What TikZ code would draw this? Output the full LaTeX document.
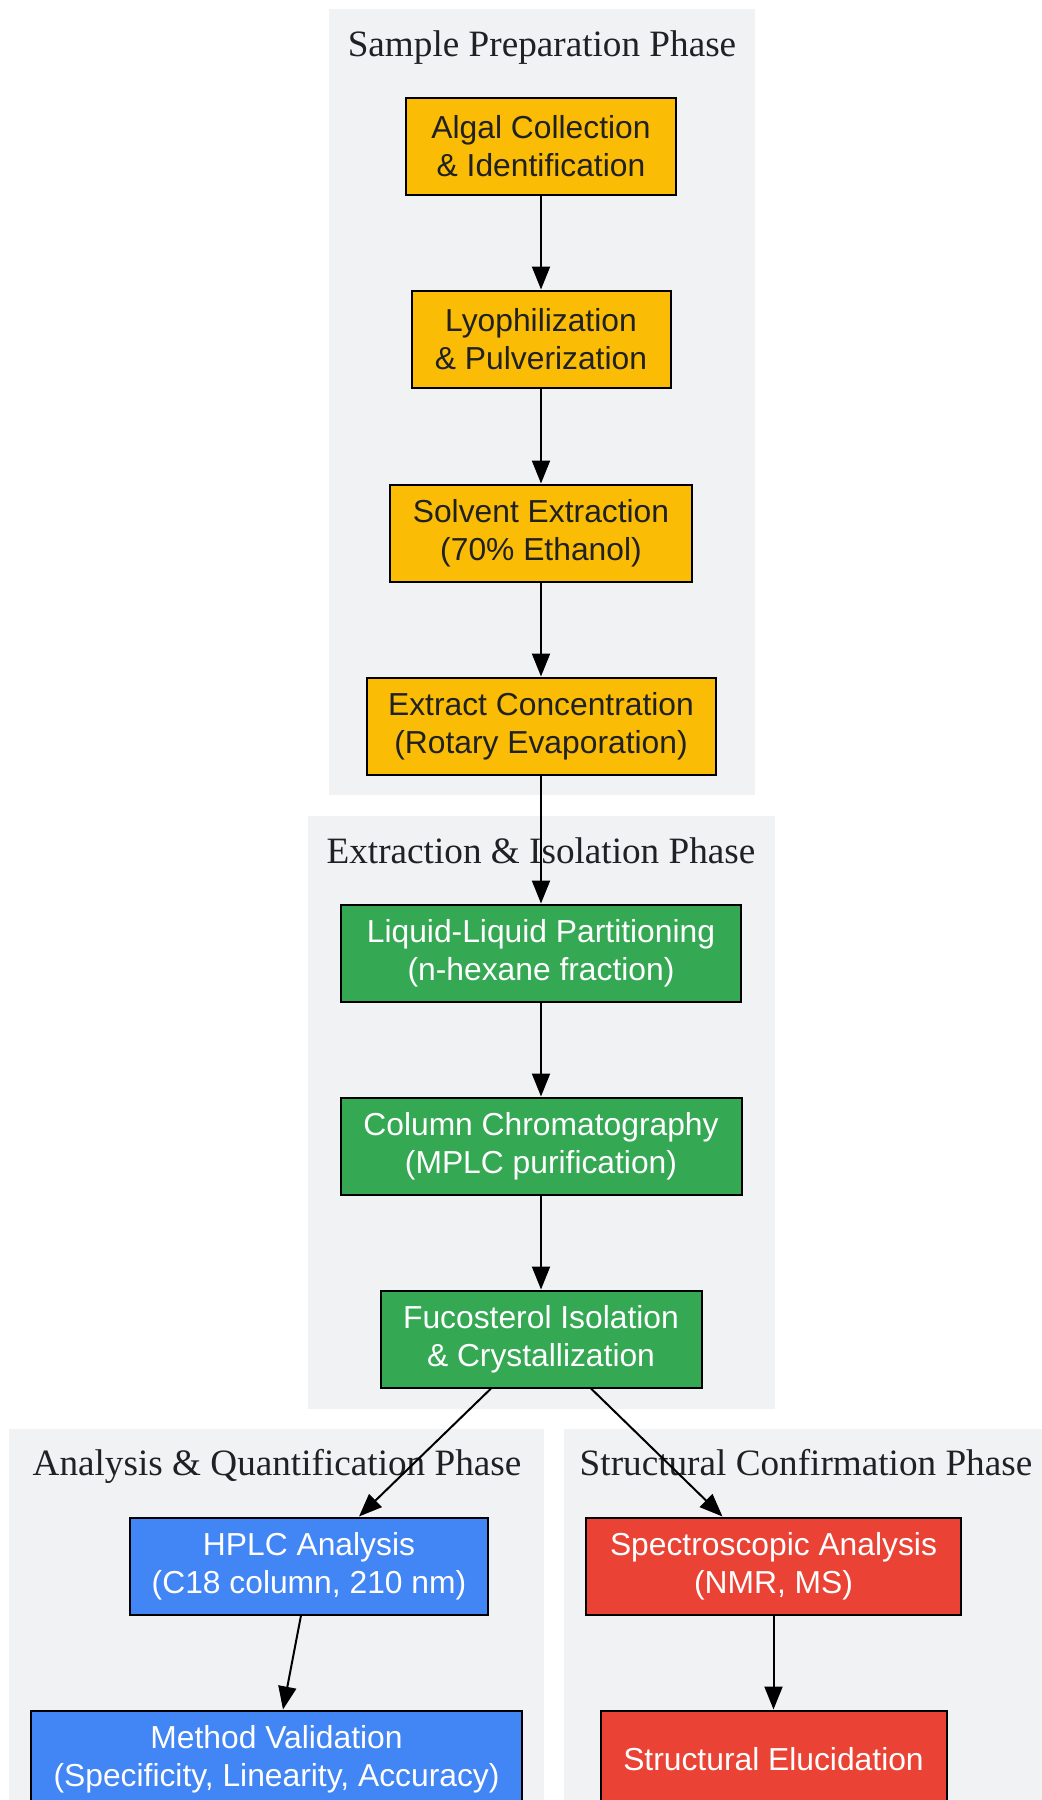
\documentclass[tikz,border=0pt]{standalone}
\usepackage{fontspec}
\setmainfont{Liberation Serif}
\setsansfont{Liberation Sans}
\usetikzlibrary{arrows.meta}
\definecolor{amarillo}{HTML}{FBBC05}
\definecolor{verde}{HTML}{34A853}
\definecolor{azul}{HTML}{4285F4}
\definecolor{rojo}{HTML}{EA4335}
\definecolor{fondo}{HTML}{F1F2F4}
\definecolor{texto}{HTML}{202124}
\begin{document}
\begin{tikzpicture}[x=0.5pt,y=-0.5pt,
    caja/.style={draw=black, line width=1pt, minimum height=48.5pt, inner sep=0pt,
        align=center, font=\sffamily\fontsize{15.9}{19}\selectfont},
    prep/.style={caja, fill=amarillo, text=texto},
    extr/.style={caja, fill=verde, text=white},
    anal/.style={caja, fill=azul, text=white},
    estr/.style={caja, fill=rojo, text=white},
    fase/.style={anchor=base, text=texto, font=\fontsize{18.6}{22}\selectfont},
    flecha/.style={line width=1pt, -{Triangle[length=11.5pt,width=9pt]}}]
                \useasboundingbox (0,0) rectangle (1041,1800);
                \fill[fondo] (329,9) rectangle (755,795); % fase 1
                \fill[fondo] (308,816) rectangle (775,1409); % fase 2
                \fill[fondo] (9,1429) rectangle (544,1820); % fase 3
                \fill[fondo] (564,1429) rectangle (1050,1820); % fase 4
                \node[fase] (fase1) at (542,56) {Sample Preparation Phase};
                \node[fase] (fase2) at (541,863) {Extraction \& Isolation Phase};
                \node[fase] (fase3) at (277,1475) {Analysis \& Quantification Phase};
                \node[fase] (fase4) at (806,1475) {Structural Confirmation Phase};
                \node[prep, minimum width=135pt] (algal) at (541,146) {Algal Collection\\\& Identification};
                \node[prep, minimum width=129.5pt] (liof) at (541,339) {Lyophilization\\\& Pulverization};
                \node[prep, minimum width=151pt] (solv) at (541,533) {Solvent Extraction\\(70\% Ethanol)};
                \node[prep, minimum width=174.5pt] (conc) at (541,726) {Extract Concentration\\(Rotary Evaporation)};
                \node[extr, minimum width=200pt] (part) at (541,953) {Liquid-Liquid Partitioning\\(n-hexane fraction)};
                \node[extr, minimum width=200.5pt] (col) at (541,1146) {Column Chromatography\\(MPLC purification)};
                \node[extr, minimum width=160.5pt] (fuco) at (541,1339) {Fucosterol Isolation\\\& Crystallization};
                \node[anal, minimum width=179pt] (hplc) at (309,1566) {HPLC Analysis\\(C18 column, 210 nm)};
                \node[anal, minimum width=245.5pt] (valid) at (276.5,1759) {Method Validation\\(Specificity, Linearity, Accuracy)};
                \node[estr, minimum width=187.5pt] (espec) at (773.5,1566) {Spectroscopic Analysis\\(NMR, MS)};
                \node[estr, minimum width=173pt] (eluc) at (773.5,1759) {Structural Elucidation};
                \draw[flecha] (algal) -- (liof);
                \draw[flecha] (liof) -- (solv);
                \draw[flecha] (solv) -- (conc);
                \draw[flecha] (conc) -- (part);
                \draw[flecha] (part) -- (col);
                \draw[flecha] (col) -- (fuco);
                \draw[flecha] ([xshift=-25pt]fuco.south) -- ([xshift=25pt]hplc.north);
                \draw[flecha] ([xshift=25pt]fuco.south) -- ([xshift=-25.5pt]espec.north);
                \draw[flecha] ([xshift=-4pt]hplc.south) -- ([xshift=3.25pt]valid.north);
                \draw[flecha] (espec) -- (eluc);
\end{tikzpicture}
\end{document}
